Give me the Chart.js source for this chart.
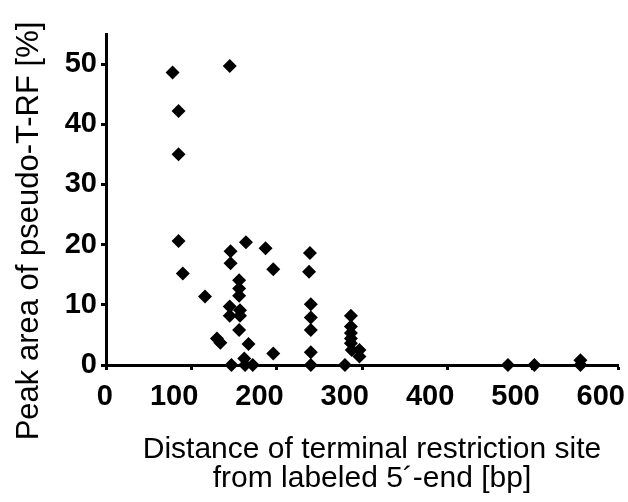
<!DOCTYPE html>
<html>
<head>
<meta charset="utf-8">
<script src="https://cdn.jsdelivr.net/npm/chart.js@4/dist/chart.umd.min.js"></script>
<style>
  html, body { margin: 0; padding: 0; background: #fff; }
  #wrap { width: 628px; height: 502px; }
</style>
</head>
<body>
<div id="wrap"><canvas id="scatterChart" width="628" height="502"></canvas></div>
<script>
// distance of terminal restriction site [bp] and peak area [%]
const distance = [
  78, 145, 85, 85, 85, 90, 116, 130, 134,
  146, 146, 164, 187, 196, 156, 156, 156,
  145, 145, 157, 157, 156, 167, 162, 196,
  147, 163, 172,
  239, 238, 240, 240, 240, 240, 240,
  280, 287, 287, 287, 287, 287, 288, 297, 297,
  471, 502, 556, 556
];
const peakArea = [
  48.6, 49.7, 42.2, 35.0, 20.6, 15.2, 11.4, 4.4, 3.7,
  18.9, 16.9, 20.4, 19.4, 15.9, 14.1, 12.7, 11.5,
  9.7, 8.2, 9.1, 8.2, 5.8, 3.5, 1.1, 1.9,
  0, 0, 0,
  18.6, 15.5, 10.1, 7.9, 5.8, 2.1, 0,
  0, 8.2, 6.4, 5.3, 4.4, 3.6, 2.5, 2.5, 1.4,
  0, 0, 0.8, 0
];
const xTicks = [0, 100, 200, 300, 400, 500, 600];
const yTicks = [0, 10, 20, 30, 40, 50];
const yTitle = 'Peak area of pseudo-T-RF [%]';
const xTitleLines = ['Distance of terminal restriction site', 'from labeled 5\u00b4-end [bp]'];

const fontFamily = '"Liberation Sans", Arial, sans-serif';

// axis titles are drawn by hand, the original has them off-centre
const axisTitles = {
  id: 'axisTitles',
  afterDraw(chart) {
    const ctx = chart.ctx;
    const area = chart.chartArea;
    ctx.save();
    ctx.fillStyle = '#000';
    ctx.textAlign = 'center';
    ctx.textBaseline = 'alphabetic';

    // y title, rotated
    ctx.save();
    ctx.font = '31px ' + fontFamily;
    ctx.translate(area.left - 68, area.top + 197);
    ctx.rotate(-Math.PI / 2);
    ctx.fillText(yTitle, 0, 0);
    ctx.restore();

    // x title, two lines
    ctx.font = '30px ' + fontFamily;
    const cx = (area.left + area.right) / 2 + 10;
    xTitleLines.forEach((line, i) => {
      ctx.fillText(line, cx, area.bottom + 93 + i * 29);
    });
    ctx.restore();
  }
};

const ctx = document.getElementById('scatterChart').getContext('2d');
const chart = new Chart(ctx, {
  type: 'scatter',
  data: {
    datasets: [{
      data: distance.map((d, i) => ({ x: d, y: peakArea[i] })),
      pointStyle: 'rectRot',
      pointRadius: 7,
      backgroundColor: '#000',
      borderWidth: 0,
      clip: false
    }]
  },
  options: {
    responsive: false,
    animation: false,
    layout: {
      padding: { left: 0, right: 5, top: 34, bottom: 0 }
    },
    plugins: {
      legend: { display: false },
      tooltip: { enabled: false }
    },
    scales: {
      x: {
        type: 'linear',
        min: 0,
        max: 600,
        afterBuildTicks: scale => { scale.ticks = xTicks.map(v => ({ value: v })); },
        afterFit: scale => { scale.height = 137; },
        grid: {
          drawOnChartArea: false,
          drawTicks: true,
          tickLength: 5,
          tickWidth: 3,
          tickColor: '#000'
        },
        border: { color: '#000', width: 3 },
        ticks: {
          align: 'end',
          labelOffset: 7,
          padding: 10,
          maxRotation: 0,
          autoSkip: false,
          color: '#000',
          font: { family: fontFamily, size: 29, weight: 'bold' }
        },
        title: { display: false }
      },
      y: {
        type: 'linear',
        min: 0,
        max: 55,
        afterBuildTicks: scale => { scale.ticks = yTicks.map(v => ({ value: v })); },
        afterFit: scale => { scale.width = 106; },
        grid: {
          drawOnChartArea: false,
          drawTicks: true,
          tickLength: 5,
          tickWidth: 3,
          tickColor: '#000'
        },
        border: { color: '#000', width: 3 },
        ticks: {
          padding: 4,
          autoSkip: false,
          color: '#000',
          font: { family: fontFamily, size: 29, weight: 'bold' }
        },
        title: { display: false }
      }
    }
  },
  plugins: [axisTitles]
});
</script>
</body>
</html>
